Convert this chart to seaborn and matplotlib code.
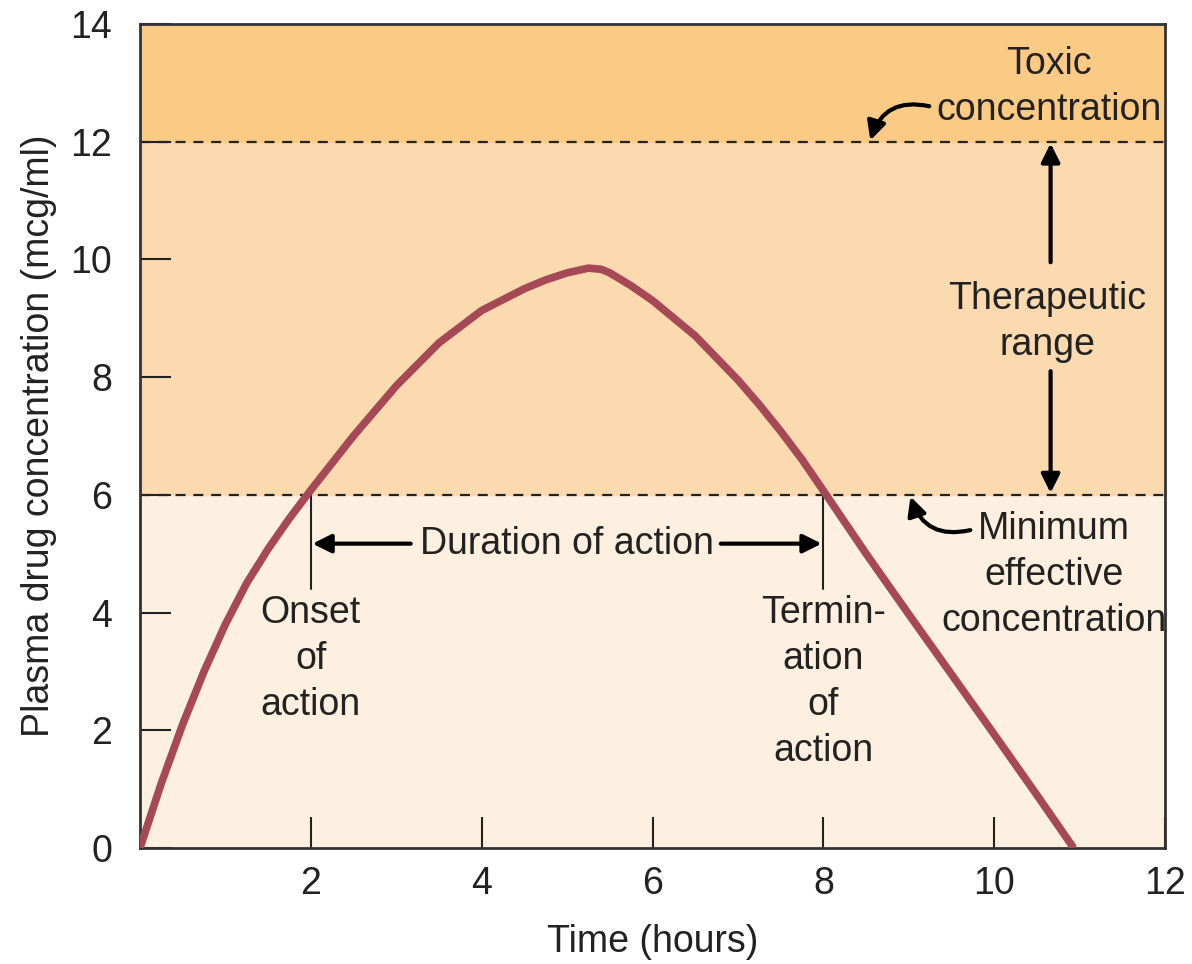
import seaborn as sns
import matplotlib.pyplot as plt
import pandas as pd

czas = [0, 0.25, 0.5, 0.75, 1.0, 1.25, 1.5, 1.75, 2.0, 2.5, 3.0, 3.5, 4.0, 4.5, 4.75,
        5.0, 5.25, 5.4, 5.5, 5.75, 6.0, 6.5, 7.0, 7.25, 7.5, 7.75, 8.0, 8.5, 9.0, 9.5,
        10.0, 10.5, 10.93]
stezenie = [0, 1.1, 2.1, 3.0, 3.8, 4.5, 5.08, 5.6, 6.08, 7.0, 7.85, 8.58, 9.13, 9.5, 9.65,
            9.77, 9.85, 9.83, 9.77, 9.55, 9.3, 8.7, 7.95, 7.53, 7.08, 6.6, 6.07, 5.0, 3.97,
            2.95, 1.93, 0.9, 0.0]

min_skuteczne = 6
toksyczne = 12
gora = 14
x_ticki = [2, 4, 6, 8, 10, 12]
y_ticki = [0, 2, 4, 6, 8, 10, 12, 14]

tabelka = pd.DataFrame({"czas": czas, "stezenie": stezenie})

sns.set_theme(style="ticks")
plt.rcParams["font.family"] = ["Liberation Sans", "DejaVu Sans"]

ink = "#222222"
fs = 27
fig = plt.figure(figsize=(11.92, 9.64), dpi=100)
ax = fig.add_axes([0.1174, 0.1203, 0.86, 0.855])

# strefy
ax.axhspan(0, min_skuteczne, color="#fdf0e0", zorder=0)
ax.axhspan(min_skuteczne, toksyczne, color="#fcdab0", zorder=0)
ax.axhspan(toksyczne, gora, color="#fbca84", zorder=0)
for poziom in [min_skuteczne, toksyczne]:
    ax.axhline(poziom, color=ink, lw=1.6, ls=(0, (4.5, 3.5)), zorder=1)

sns.lineplot(data=tabelka, x="czas", y="stezenie", sort=False, color="#a64856",
             lw=5.5, ax=ax, zorder=3, solid_joinstyle="round", solid_capstyle="butt")

ax.set_xlim(0, 12)
ax.set_ylim(0, gora)
ax.set_xticks(x_ticki)
ax.set_yticks(y_ticki)
ax.tick_params(direction="in", length=22, width=1.5, color=ink, labelsize=fs,
               labelcolor=ink)
ax.tick_params(axis="y", pad=20)
ax.tick_params(axis="x", pad=13)
for s in ax.spines.values():
    s.set_color("#333333")
    s.set_linewidth(2)
ax.set_xlabel("Time (hours)", fontsize=fs, color=ink, labelpad=16)
ax.set_ylabel("Plasma drug concentration (mcg/ml)", fontsize=fs, color=ink, labelpad=10)

tekst = dict(fontsize=fs, color=ink, ha="center", va="top", linespacing=1.36)
grot = dict(arrowstyle="-|>", color="black", lw=3, mutation_scale=28, shrinkA=0, shrinkB=0)

# czas dzialania
for xv in [2, 8]:
    ax.plot([xv, xv], [4.4, min_skuteczne], color=ink, lw=1.5, zorder=2)
ax.text(5.0, 5.17, "Duration of action", fontsize=fs, color=ink, ha="center", va="center")
ax.annotate("", xy=(2.02, 5.17), xytext=(3.17, 5.17), arrowprops=grot)
ax.annotate("", xy=(7.98, 5.17), xytext=(6.8, 5.17), arrowprops=grot)

ax.text(2.0, 4.3, "Onset\nof\naction", **tekst)
ax.text(8.0, 4.3, "Termin-\nation\nof\naction", **tekst)

# strefy - opisy
ax.text(10.64, 13.63, "Toxic\nconcentration", **tekst)
ax.annotate("", xy=(8.55, 12.02), xytext=(9.24, 12.6),
            arrowprops=dict(grot, connectionstyle="arc3,rad=0.45"))

ax.text(10.62, 9.63, "Therapeutic\nrange", **tekst)
ax.annotate("", xy=(10.66, 11.97), xytext=(10.66, 9.95), arrowprops=grot)
ax.annotate("", xy=(10.66, 6.03), xytext=(10.66, 8.1), arrowprops=grot)

ax.text(10.7, 5.72, "Minimum\neffective\nconcentration", **tekst)
ax.annotate("", xy=(9.02, 5.97), xytext=(9.72, 5.4),
            arrowprops=dict(grot, connectionstyle="arc3,rad=-0.45"))

fig.savefig("out.png", dpi=100)
